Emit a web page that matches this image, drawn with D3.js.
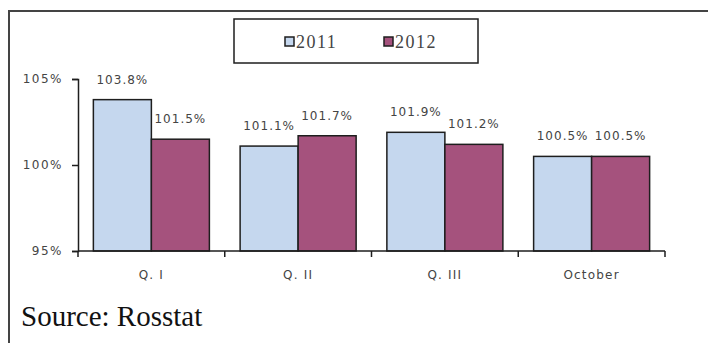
<!DOCTYPE html>
<html>
<head>
<meta charset="utf-8">
<script src="https://cdn.jsdelivr.net/npm/d3@7"></script>
<style>
  body { margin: 0; background: #fff; }
</style>
</head>
<body>
<div id="chart"></div>
<script>
var categories = ["Q. I", "Q. II", "Q. III", "October"];
var series = ["2011", "2012"];
var values2011 = [103.8, 101.1, 101.9, 100.5];
var values2012 = [101.5, 101.7, 101.2, 100.5];
var yTicks = [95, 100, 105];

var width = 708;
var height = 343;
var colors = { "2011": "#c5d7ee", "2012": "#a5527d" };

var svg = d3.select("#chart")
            .append("svg")
            .attr("width", width)
            .attr("height", height);

// outer frame (runs off the right and bottom edges)
svg.append("rect")
   .attr("x", 9).attr("y", 11)
   .attr("width", 720).attr("height", 360)
   .attr("fill", "none")
   .attr("stroke", "#444")
   .attr("stroke-width", 2);

var x0 = d3.scaleBand().domain(categories).range([78, 665]);
var x1 = d3.scaleBand().domain(series).range([0, x0.bandwidth()]).paddingOuter(0.265);
var y = d3.scaleLinear().domain([95, 105]).range([251, 79]);

var data = categories.map(function(c, i) {
    return { cat: c, vals: [["2011", values2011[i]], ["2012", values2012[i]]] };
});

var groups = svg.selectAll("g.grp")
                .data(data)
                .enter()
                .append("g")
                .attr("class", "grp")
                .attr("transform", function(d) { return "translate(" + x0(d.cat) + ",0)"; });

groups.selectAll("rect")
      .data(function(d) { return d.vals; })
      .enter()
      .append("rect")
      .attr("x", function(d) { return x1(d[0]); })
      .attr("y", function(d) { return y(d[1]); })
      .attr("width", x1.bandwidth())
      .attr("height", function(d) { return y(95) - y(d[1]); })
      .attr("fill", function(d) { return colors[d[0]]; })
      .attr("stroke", "#1e1e1e")
      .attr("stroke-width", 1.5);

groups.selectAll("text.val")
      .data(function(d) { return d.vals; })
      .enter()
      .append("text")
      .attr("class", "val")
      .attr("x", function(d) { return x1(d[0]) + x1.bandwidth() / 2; })
      .attr("y", function(d) { return y(d[1]) - 16; })
      .attr("text-anchor", "middle")
      .attr("font-family", "DejaVu Sans, sans-serif")
      .attr("font-size", 12)
      .attr("letter-spacing", 1)
      .attr("fill", "#444")
      .text(function(d) { return d[1].toFixed(1) + "%"; });

// y axis
var yAxis = d3.axisLeft(y).tickValues(yTicks).tickSize(6).tickPadding(9)
              .tickFormat(function(d) { return d + "%"; });
var gy = svg.append("g").attr("transform", "translate(78,0)").call(yAxis);
gy.select(".domain").attr("stroke", "#1e1e1e").attr("stroke-width", 1.5);
gy.selectAll(".tick line").attr("stroke", "#1e1e1e").attr("stroke-width", 1.5);
gy.selectAll("text")
  .attr("font-family", "DejaVu Sans, sans-serif")
  .attr("font-size", 12)
  .attr("letter-spacing", 1.5)
  .attr("fill", "#444");

// x axis with ticks at the category boundaries
var gx = svg.append("g").attr("transform", "translate(0," + y(95) + ")");
gx.append("line")
  .attr("x1", x0.range()[0]).attr("x2", x0.range()[1])
  .attr("stroke", "#1e1e1e").attr("stroke-width", 1.5);
var bounds = categories.map(function(c) { return x0(c); }).concat([x0.range()[1]]);
gx.selectAll("line.tk")
  .data(bounds)
  .enter()
  .append("line")
  .attr("class", "tk")
  .attr("x1", function(d) { return d; }).attr("x2", function(d) { return d; })
  .attr("y1", 0).attr("y2", 6)
  .attr("stroke", "#1e1e1e").attr("stroke-width", 1.5);
gx.selectAll("text")
  .data(categories)
  .enter()
  .append("text")
  .attr("x", function(d) { return x0(d) + x0.bandwidth() / 2; })
  .attr("y", 28)
  .attr("text-anchor", "middle")
  .attr("font-family", "DejaVu Sans, sans-serif")
  .attr("font-size", 12)
  .attr("letter-spacing", 1.2)
  .attr("fill", "#444")
  .text(function(d) { return d; });

// legend
var legend = svg.append("g");
legend.append("rect")
      .attr("x", 234).attr("y", 19)
      .attr("width", 244).attr("height", 44)
      .attr("fill", "#fff")
      .attr("stroke", "#1e1e1e")
      .attr("stroke-width", 1.5);
var legX = [285, 384];
series.forEach(function(s, i) {
    legend.append("rect")
          .attr("x", legX[i]).attr("y", 37)
          .attr("width", 9).attr("height", 9)
          .attr("fill", colors[s])
          .attr("stroke", "#1e1e1e")
          .attr("stroke-width", 1.5);
    legend.append("text")
          .attr("x", legX[i] + 11).attr("y", 48)
          .attr("font-family", "Liberation Serif, serif")
          .attr("font-size", 18)
          .attr("letter-spacing", 1.5)
          .attr("fill", "#444")
          .text(s);
});

svg.append("text")
   .attr("x", 21).attr("y", 326)
   .attr("font-family", "Liberation Serif, serif")
   .attr("font-size", 29)
   .attr("fill", "#111")
   .text("Source: Rosstat");
</script>
</body>
</html>
